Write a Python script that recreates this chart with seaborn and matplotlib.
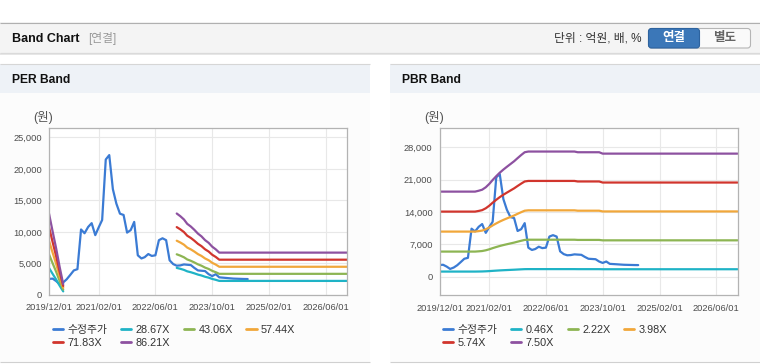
import numpy as np
import pandas as pd
import seaborn as sns
import matplotlib.pyplot as plt
import matplotlib.dates as mdates
from matplotlib.lines import Line2D
from matplotlib.patches import Rectangle, FancyBboxPatch
from matplotlib.ticker import FuncFormatter

# monthly axis, 2019/12 .. 2026/12
months = pd.date_range('2019-12-01', '2026-12-01', freq='MS')

# adjusted close (수정주가), 2019/12 .. 2024/08
price = [2550, 2600, 2200, 1700, 2000, 2500, 3200, 3900, 4100, 10400,
         9800, 10800, 11400, 9500, 10800, 11900, 21500, 22200, 16800, 14500,
         12900, 12700, 9900, 10300, 11600, 6300, 5800, 6000, 6500, 6200,
         6300, 8700, 9000, 8700, 5500, 4900, 4650, 4700, 4850, 4800,
         4750, 4300, 3900, 3850, 3800, 3300, 3000, 3300, 2800, 2750,
         2700, 2650, 2600, 2580, 2560, 2540, 2530]

# EPS behind the PER band (gap where EPS was negative)
per_eps = ([150, 117, 85, 52, 20] + [np.nan] * 31 +
           [150, 145, 139, 131, 126, 120, 113, 108, 101, 96, 89, 84, 78] +
           [78] * 36)

# BPS behind the PBR band
pbr_bps = ([2455] * 11 + [2480, 2510] +
           [2580, 2680, 2790, 2900, 3000, 3090, 3170, 3250, 3330, 3420, 3510, 3590, 3610] +
           [3610] * 13 + [3590] * 7 + [3550] * 39)

per_multiples = [28.67, 43.06, 57.44, 71.83, 86.21]
pbr_multiples = [0.46, 2.22, 3.98, 5.74, 7.50]

xtick_dates = ['2019-12-01', '2021-02-01', '2022-06-01', '2023-10-01', '2025-02-01', '2026-06-01']
per_yticks = [0, 5000, 10000, 15000, 20000, 25000]
pbr_yticks = [0, 7000, 14000, 21000, 28000]

colors = ['#3b7bd4', '#1fb3c6', '#8db553', '#f1a73a', '#d1352d', '#8d51a0']

sns.set_style('white')
plt.rcParams['font.family'] = ['Liberation Sans', 'Noto Sans CJK KR']
plt.rcParams['axes.unicode_minus'] = False


def make_frame(base, multiples):
    frames = [pd.DataFrame({'date': months[:len(price)], 'value': price,
                            'series': '수정주가', 'seg': 0})]
    base = np.array(base, dtype=float)
    seg = np.cumsum(np.isnan(base))
    for m in multiples:
        frames.append(pd.DataFrame({'date': months, 'value': base * m,
                                    'series': f'{m:.2f}X', 'seg': seg}))
    return pd.concat(frames).dropna()


def draw_panel(ax, df, multiples, yticks, ylim, leg_xy):
    labels = ['수정주가'] + [f'{m:.2f}X' for m in multiples]
    sns.lineplot(data=df, x='date', y='value', hue='series', hue_order=labels,
                 units='seg', estimator=None, palette=colors, linewidth=1.6,
                 legend=False, ax=ax)
    ax.set_facecolor('white')
    ax.set_xlim(months[0], months[-1])
    ax.set_ylim(ylim)
    ax.set_xticks(pd.to_datetime(xtick_dates))
    ax.xaxis.set_major_formatter(mdates.DateFormatter('%Y/%m/%d'))
    ax.set_yticks(yticks)
    ax.yaxis.set_major_formatter(FuncFormatter(lambda v, p: f'{v:,.0f}'))
    ax.set_xlabel('')
    ax.set_ylabel('')
    ax.grid(True, color='#e8e8e8', linewidth=0.8)
    ax.set_axisbelow(True)
    for s in ax.spines.values():
        s.set_visible(True)
        s.set_color('#b3b3b3')
        s.set_linewidth(0.9)
    ax.tick_params(axis='x', length=4, width=0.8, color='#b3b3b3', pad=2,
                   labelsize=6.7, labelcolor='#4d4d4d')
    ax.tick_params(axis='y', length=0, pad=5, labelsize=6.7, labelcolor='#4d4d4d')

    handles = [Line2D([], [], color=c, lw=2) for c in colors]
    order = [0, 4, 1, 5, 2, 3]
    leg = ax.legend([handles[i] for i in order], [labels[i] for i in order],
                    ncol=4, loc='upper left', bbox_to_anchor=leg_xy,
                    bbox_transform=ax.figure.transFigure, frameon=False,
                    fontsize=7.8, handlelength=0.95, handletextpad=0.4,
                    columnspacing=1.25, labelspacing=0.25, borderpad=0,
                    borderaxespad=0)
    for t in leg.get_texts():
        t.set_color('#333333')


fig = plt.figure(figsize=(7.6, 3.64), dpi=100)
fig.patch.set_facecolor('white')

# page chrome drawn in pixel coordinates
bg = fig.add_axes([0, 0, 1, 1], zorder=0)
bg.set_xlim(0, 760)
bg.set_ylim(364, 0)
bg.axis('off')

bg.add_patch(Rectangle((0, 22), 760, 31, facecolor='#f4f4f4', edgecolor='none'))
bg.hlines(22.5, 0, 760, color='#b0b0b0', lw=0.8)
bg.hlines(53, 0, 760, color='#b4b4b4', lw=0.8)
bg.hlines(54.3, 0, 760, color='#e2e2e2', lw=1.2)
bg.text(12, 38.5, 'Band Chart', fontsize=9, fontweight='bold', va='center', color='#111111')
bg.text(88, 38.5, '[연결]', fontsize=8.5, va='center', color='#999999')
bg.text(642, 38.5, '단위 : 억원, 배, %', fontsize=8.5, ha='right', va='center', color='#333333')
bg.add_patch(FancyBboxPatch((648.5, 28.5), 102, 19.5, boxstyle='round,pad=0,rounding_size=3',
                            facecolor='#fafafa', edgecolor='#b5b5b5', lw=0.8))
bg.add_patch(FancyBboxPatch((648.5, 28.5), 51, 19.5, boxstyle='round,pad=0,rounding_size=3',
                            facecolor='#3b77b8', edgecolor='#2d639f', lw=0.8))
bg.text(674, 38.5, '연결', fontsize=9, fontweight='bold', ha='center', va='center', color='white')
bg.text(725, 38.5, '별도', fontsize=9, fontweight='bold', ha='center', va='center', color='#666666')

for x0, title, unit_x in [(0, 'PER Band', 43), (390, 'PBR Band', 434)]:
    bg.add_patch(Rectangle((x0, 64), 370, 29, facecolor='#eef2f7', edgecolor='none'))
    bg.add_patch(Rectangle((x0, 93), 370, 269, facecolor='#fcfcfc', edgecolor='none'))
    bg.hlines(64.3, x0, x0 + 370, color='#d6d6d6', lw=0.8)
    bg.hlines(361.7, x0, x0 + 370, color='#d0d0d0', lw=0.8)
    bg.text(x0 + 12, 80, title, fontsize=8.7, fontweight='bold', va='center', color='#111111')
    bg.text(unit_x, 117.5, '(원)', fontsize=9, ha='center', va='center', color='#555555')

ax_per = fig.add_axes([49 / 760, (364 - 295) / 364, 298 / 760, 167 / 364], zorder=1)
draw_panel(ax_per, make_frame(per_eps, per_multiples), per_multiples,
           per_yticks, (0, 26500), (53 / 760, 1 - 325 / 364))

ax_pbr = fig.add_axes([439.5 / 760, (364 - 295.3) / 364, 298 / 760, 167 / 364], zorder=1)
draw_panel(ax_pbr, make_frame(pbr_bps, pbr_multiples), pbr_multiples,
           pbr_yticks, (-4000, 32100), (443 / 760, 1 - 325 / 364))

fig.savefig('out.png', dpi=100)
